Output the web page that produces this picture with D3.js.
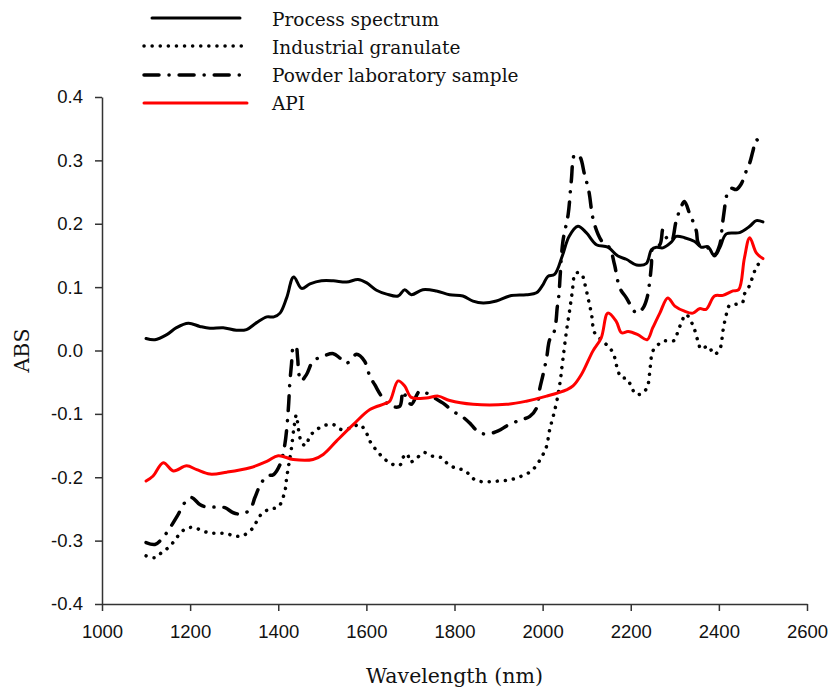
<!DOCTYPE html>
<html>
<head>
<meta charset="utf-8">
<script src="https://cdn.jsdelivr.net/npm/d3@7"></script>
<style>
  body { margin: 0; background: #fff; }
  svg { display: block; }
  .tick text { font-family: "Liberation Sans", Arial, sans-serif; font-size: 18.5px; fill: #111; }
  .axis path, .axis line { stroke: #333; stroke-width: 1.5; }
  .title { font-family: "DejaVu Serif", serif; font-size: 20.5px; fill: #111; }
  .legend-label { font-family: "DejaVu Serif", serif; font-size: 18.5px; fill: #111; }
</style>
</head>
<body>
<div class="graph"></div>
<script>
// ---- data ----
var processSpectrum = [
  [1100,0.019],[1120,0.017],[1147,0.025],[1169,0.036],[1196,0.043],[1222,0.038],[1245,0.035],[1275,0.036],
  [1305,0.032],[1328,0.033],[1351,0.044],[1374,0.053],[1390,0.053],[1404,0.059],[1419,0.083],[1435,0.116],
  [1453,0.098],[1472,0.105],[1498,0.110],[1525,0.110],[1555,0.108],[1581,0.112],[1600,0.107],[1623,0.095],
  [1646,0.089],[1672,0.086],[1687,0.096],[1702,0.088],[1728,0.096],[1759,0.094],[1789,0.088],[1819,0.086],
  [1842,0.078],[1865,0.075],[1895,0.078],[1925,0.086],[1963,0.088],[1986,0.091],[2001,0.104],[2012,0.117],
  [2027,0.120],[2045,0.150],[2060,0.180],[2080,0.196],[2099,0.186],[2122,0.167],[2148,0.163],[2171,0.149],
  [2190,0.144],[2213,0.135],[2235,0.137],[2247,0.159],[2258,0.163],[2273,0.162],[2292,0.171],[2303,0.180],
  [2322,0.178],[2345,0.172],[2360,0.163],[2375,0.164],[2390,0.149],[2402,0.162],[2417,0.184],[2447,0.186],
  [2470,0.196],[2485,0.205],[2500,0.203]
];

var industrialGranulate = [
  [1100,-0.324],[1120,-0.327],[1135,-0.319],[1154,-0.309],[1171,-0.294],[1188,-0.282],[1207,-0.279],[1226,-0.284],
  [1245,-0.288],[1264,-0.288],[1283,-0.289],[1302,-0.293],[1320,-0.292],[1340,-0.282],[1351,-0.270],[1362,-0.258],
  [1381,-0.250],[1400,-0.247],[1415,-0.222],[1419,-0.201],[1424,-0.180],[1430,-0.154],[1436,-0.120],[1441,-0.102],
  [1446,-0.125],[1453,-0.145],[1462,-0.150],[1472,-0.135],[1487,-0.125],[1506,-0.118],[1525,-0.117],[1544,-0.125],
  [1565,-0.122],[1585,-0.117],[1600,-0.130],[1608,-0.143],[1621,-0.156],[1638,-0.169],[1657,-0.179],[1676,-0.181],
  [1683,-0.169],[1693,-0.163],[1699,-0.176],[1714,-0.170],[1730,-0.161],[1751,-0.167],[1770,-0.169],[1785,-0.179],
  [1804,-0.186],[1823,-0.189],[1842,-0.202],[1861,-0.207],[1880,-0.207],[1899,-0.206],[1918,-0.205],[1937,-0.202],
  [1956,-0.197],[1975,-0.190],[1990,-0.177],[2001,-0.164],[2009,-0.151],[2016,-0.125],[2024,-0.104],[2033,-0.077],
  [2040,-0.048],[2046,-0.014],[2054,0.030],[2061,0.062],[2067,0.091],[2075,0.122],[2088,0.121],[2095,0.107],
  [2103,0.083],[2111,0.057],[2118,0.028],[2133,0.017],[2148,0.007],[2160,-0.004],[2171,-0.032],[2179,-0.043],
  [2190,-0.044],[2201,-0.056],[2211,-0.069],[2228,-0.067],[2239,-0.054],[2244,-0.027],[2250,-0.001],[2262,0.009],
  [2273,0.015],[2284,0.015],[2299,0.016],[2307,0.030],[2315,0.044],[2325,0.057],[2341,0.040],[2352,0.016],
  [2360,0.002],[2375,0.007],[2390,-0.006],[2403,0.004],[2409,0.030],[2417,0.057],[2424,0.071],[2439,0.073],
  [2453,0.075],[2458,0.089],[2470,0.103],[2477,0.117],[2488,0.135],[2500,0.140]
];

var powderSample = [
  [1100,-0.303],[1120,-0.306],[1135,-0.298],[1154,-0.280],[1171,-0.261],[1188,-0.240],[1203,-0.232],[1222,-0.243],
  [1237,-0.247],[1260,-0.247],[1279,-0.248],[1298,-0.256],[1317,-0.258],[1336,-0.251],[1347,-0.232],[1358,-0.214],
  [1374,-0.198],[1389,-0.196],[1404,-0.180],[1415,-0.148],[1423,-0.091],[1426,-0.054],[1430,-0.022],[1434,0.004],
  [1440,0.007],[1444,-0.012],[1447,-0.038],[1452,-0.048],[1464,-0.038],[1479,-0.017],[1502,-0.009],[1525,-0.005],
  [1540,-0.012],[1555,-0.020],[1578,-0.006],[1596,-0.017],[1608,-0.041],[1619,-0.054],[1634,-0.072],[1649,-0.085],
  [1662,-0.089],[1676,-0.088],[1683,-0.064],[1691,-0.075],[1702,-0.085],[1721,-0.064],[1736,-0.067],[1755,-0.075],
  [1774,-0.083],[1797,-0.096],[1819,-0.105],[1838,-0.117],[1853,-0.128],[1872,-0.132],[1899,-0.127],[1921,-0.118],
  [1948,-0.110],[1971,-0.104],[1986,-0.091],[1993,-0.062],[2001,-0.038],[2009,-0.012],[2016,0.017],[2024,0.025],
  [2030,0.044],[2033,0.067],[2037,0.088],[2040,0.120],[2046,0.172],[2058,0.215],[2065,0.267],[2073,0.309],
  [2084,0.306],[2095,0.278],[2105,0.251],[2114,0.209],[2126,0.183],[2137,0.170],[2152,0.162],[2163,0.136],
  [2175,0.099],[2190,0.083],[2201,0.070],[2213,0.059],[2228,0.067],[2237,0.083],[2243,0.109],[2247,0.136],
  [2250,0.162],[2266,0.167],[2273,0.191],[2281,0.178],[2292,0.172],[2303,0.204],[2315,0.228],[2322,0.235],
  [2334,0.215],[2341,0.204],[2349,0.188],[2352,0.172],[2360,0.163],[2375,0.162],[2390,0.151],[2402,0.167],
  [2408,0.199],[2413,0.225],[2417,0.243],[2428,0.256],[2439,0.254],[2450,0.262],[2462,0.283],[2470,0.296],
  [2477,0.314],[2485,0.333],[2492,0.327],[2500,0.321]
];

var apiSpectrum = [
  [1100,-0.206],[1116,-0.198],[1139,-0.177],[1162,-0.190],[1192,-0.182],[1215,-0.188],[1245,-0.195],[1283,-0.192],
  [1336,-0.185],[1374,-0.175],[1400,-0.166],[1434,-0.172],[1479,-0.172],[1502,-0.164],[1532,-0.143],[1570,-0.117],
  [1608,-0.093],[1642,-0.084],[1653,-0.080],[1672,-0.048],[1687,-0.056],[1702,-0.074],[1736,-0.075],[1763,-0.072],
  [1789,-0.079],[1842,-0.085],[1918,-0.085],[1963,-0.080],[2009,-0.072],[2054,-0.062],[2069,-0.056],[2088,-0.038],
  [2114,-0.001],[2133,0.020],[2148,0.059],[2167,0.046],[2179,0.028],[2194,0.030],[2216,0.025],[2237,0.017],
  [2250,0.036],[2266,0.059],[2284,0.083],[2300,0.070],[2322,0.062],[2341,0.059],[2356,0.066],[2371,0.065],
  [2390,0.086],[2409,0.087],[2432,0.094],[2445,0.096],[2458,0.146],[2470,0.178],[2485,0.154],[2500,0.145]
];

var xTicks = [1000, 1200, 1400, 1600, 1800, 2000, 2200, 2400, 2600];
var yTicks = [-0.4, -0.3, -0.2, -0.1, 0, 0.1, 0.2, 0.3, 0.4];

var seriesNames = ['Process spectrum', 'Industrial granulate', 'Powder laboratory sample', 'API'];

// ---- layout ----
var width = 831, height = 687;
var margin = { left: 102, right: 24, top: 97, bottom: 83 };

var svg = d3.select('.graph')
  .append('svg')
  .attr('width', width)
  .attr('height', height);

var x = d3.scaleLinear().domain([1000, 2600]).range([margin.left, width - margin.right]);
var y = d3.scaleLinear().domain([-0.4, 0.4]).range([height - margin.bottom, margin.top]);

// line styles per series
var styles = [
  { color: '#000', width: 3, dash: null },
  { color: '#000', width: 3.5, dash: '0.1 8' },
  { color: '#000', width: 3.5, dash: '15 10 0.1 10' },
  { color: '#f00', width: 3, dash: null }
];

var seriesData = [processSpectrum, industrialGranulate, powderSample, apiSpectrum];

// Axes
svg.append('g')
  .attr('class', 'axis')
  .attr('transform', 'translate(0,' + y(-0.4) + ')')
  .call(d3.axisBottom(x).tickValues(xTicks).tickSizeInner(7).tickSizeOuter(0).tickPadding(14)
    .tickFormat(d3.format('d')));

svg.append('g')
  .attr('class', 'axis')
  .attr('transform', 'translate(' + x(1000) + ',0)')
  .call(d3.axisLeft(y).tickValues(yTicks).tickSizeInner(7).tickSizeOuter(0).tickPadding(12)
    .tickFormat(function(d){ return d.toFixed(1); }));

// Lines
var line = d3.line()
  .x(function(d){ return x(d[0]); })
  .y(function(d){ return y(d[1]); })
  .curve(d3.curveCatmullRom.alpha(0.5));

seriesData.forEach(function(data, i){
  svg.append('path')
    .datum(data)
    .attr('d', line)
    .attr('fill', 'none')
    .attr('stroke', styles[i].color)
    .attr('stroke-width', styles[i].width)
    .attr('stroke-linecap', 'round')
    .attr('stroke-linejoin', 'round')
    .attr('stroke-dasharray', styles[i].dash);
});

// Legend
var legendRows = [
  { x1: 152, x2: 240, lineY: 18, textY: 20 },
  { x1: 144, x2: 247, lineY: 46, textY: 48 },
  { x1: 144, x2: 240, lineY: 75, textY: 76 },
  { x1: 144, x2: 247, lineY: 103, textY: 104 }
];

var legend = svg.append('g').attr('class', 'legend');
seriesNames.forEach(function(name, i){
  legend.append('line')
    .attr('x1', legendRows[i].x1).attr('x2', legendRows[i].x2)
    .attr('y1', legendRows[i].lineY).attr('y2', legendRows[i].lineY)
    .attr('stroke', styles[i].color)
    .attr('stroke-width', styles[i].width)
    .attr('stroke-linecap', 'round')
    .attr('stroke-dasharray', styles[i].dash);
  legend.append('text')
    .attr('class', 'legend-label')
    .attr('x', 272)
    .attr('y', legendRows[i].textY)
    .attr('dy', '0.35em')
    .text(name);
});

// Axis titles
svg.append('text')
  .attr('class', 'title')
  .attr('x', (x(1000) + x(2600)) / 2)
  .attr('y', 683)
  .attr('text-anchor', 'middle')
  .text('Wavelength (nm)');

svg.append('text')
  .attr('class', 'title')
  .attr('transform', 'translate(29,' + y(0) + ') rotate(-90)')
  .attr('text-anchor', 'middle')
  .text('ABS');
</script>
</body>
</html>
